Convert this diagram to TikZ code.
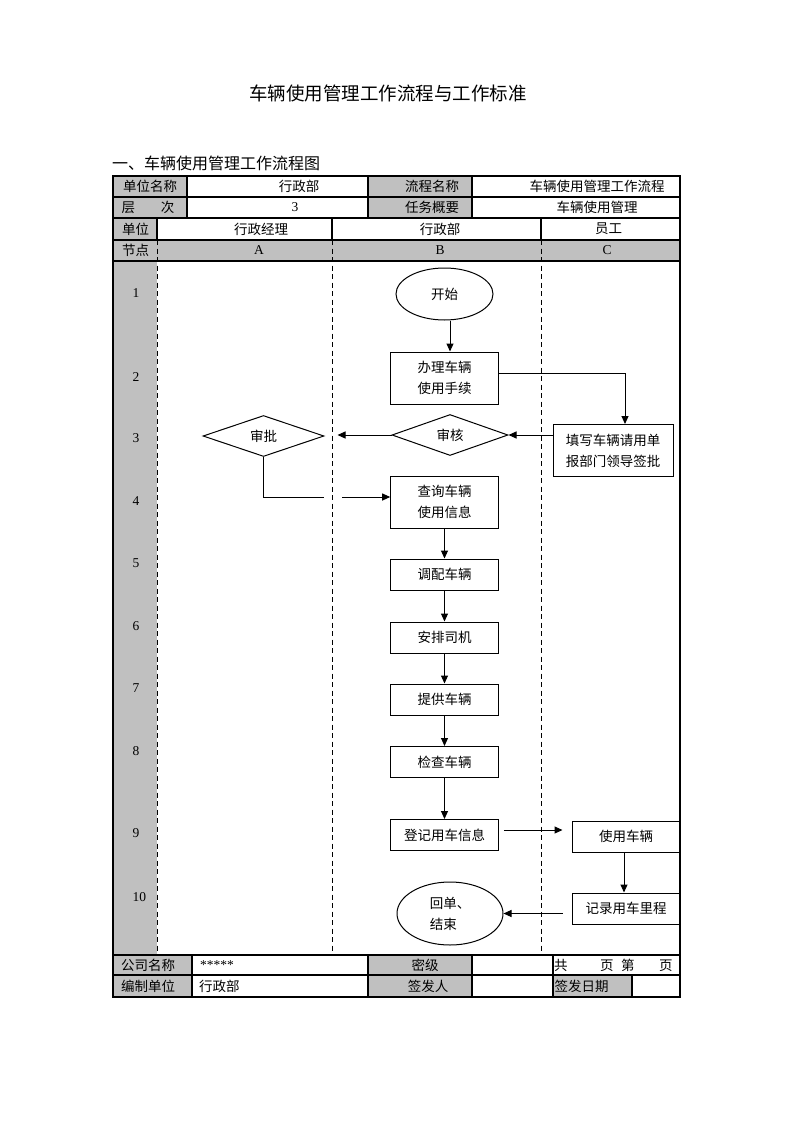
\documentclass[tikz,border=0pt]{standalone}
\usepackage{fontspec}
\setmainfont{Liberation Serif}
\newfontfamily\cjk{Noto Sans CJK SC}
\usetikzlibrary{shapes.geometric,arrows.meta}
\definecolor{cellgray}{RGB}{192,192,192}

\begin{document}
\begin{tikzpicture}[x=1pt,y=-1pt]
			\tikzstyle{every node}+=[inner sep=0pt,font=\cjk\fontsize{13.5}{21}\selectfont]
			\tikzstyle{rule}=[line width=1.1pt]
			\tikzstyle{lane}=[line width=0.9pt,dash pattern=on 5pt off 3.5pt]
			\tikzstyle{box}=[draw,line width=1pt,minimum width=107.6pt,minimum height=31pt,align=center]
			\tikzstyle{tallbox}=[box,minimum height=52pt]
			\tikzstyle{decision}=[draw,diamond,line width=1pt,minimum width=116pt,minimum height=41pt]
			\tikzstyle{terminal}=[draw,ellipse,line width=1pt,minimum width=97pt,minimum height=52pt,align=left]
			\tikzstyle{arrow}=[line width=1pt,-{Triangle[length=8pt,width=7pt]}]
			\tikzstyle{num}=[font=\rmfamily\fontsize{13.5}{16}\selectfont,anchor=west]
			\useasboundingbox (0,0) rectangle (793,1122);
			\node (title) at (388,93) {\fontsize{18.5}{22}\selectfont 车辆使用管理工作流程与工作标准};
			\node [anchor=west] (subtitle) at (112,163) {\fontsize{16}{18}\selectfont 一、车辆使用管理工作流程图};
			\fill [cellgray] (113,176) rectangle (187,218);
			\fill [cellgray] (368,176) rectangle (472,218);
			\fill [cellgray] (113,218) rectangle (157,261);
			\fill [cellgray] (113,240) rectangle (680,261);
			\fill [cellgray] (113,261) rectangle (157,955);
			\fill [cellgray] (113,955) rectangle (192,997);
			\fill [cellgray] (368,955) rectangle (472,997);
			\fill [cellgray] (553,975) rectangle (632,997);
			\draw [rule] (113,176) rectangle (680,997);
			\foreach \y in {197,218,240,261,955,975}
				\draw [rule] (113,\y) -- (680,\y);
			\foreach \x in {187,368,472}
				\draw [rule] (\x,176) -- (\x,218);
			\foreach \x in {157,332,541} {
				\draw [rule] (\x,218) -- (\x,240);
				\draw [lane] (\x,240) -- (\x,955);
			}
			\foreach \x in {192,368,472,553}
				\draw [rule] (\x,955) -- (\x,997);
			\draw [rule] (632,975) -- (632,997);
			\node (dwmc) at (150,186.5) {单位名称};
			\node (dwmcv) at (299,186.5) {行政部};
			\node (lcmc) at (432,186.5) {流程名称};
			\node (lcmcv) at (597,186.5) {车辆使用管理工作流程};
			\node (cengci) at (148,207.5) {层\hspace{26pt}次};
			\node (cengciv) at (295,207.5) {\rmfamily 3};
			\node (rwgy) at (432,207.5) {任务概要};
			\node (rwgyv) at (597,207.5) {车辆使用管理};
			\node (danwei) at (135.5,229) {单位};
			\node (laneA) at (261,229) {行政经理};
			\node (laneB) at (440,229) {行政部};
			\node (laneC) at (608.5,229) {员工};
			\node (jiedian) at (135.5,250.5) {节点};
			\node (colA) at (259,250.5) {\rmfamily A};
			\node (colB) at (440,250.5) {\rmfamily B};
			\node (colC) at (607,250.5) {\rmfamily C};
			\foreach \n/\y in {1/293,2/377,3/438,4/501,5/563,6/626,7/688,8/751,9/833,10/897}
				\node [num] (n\n) at (132.5,\y) {\n};
			\node (gsmc) at (148,965) {公司名称};
			\node [anchor=west] (gsmcv) at (200,965) {\rmfamily *****};
			\node (miji) at (425,965) {密级};
			\node [anchor=west] (yema) at (554,965) {共\hspace{32.5pt}页\hspace{7.5pt}第\hspace{24.5pt}页};
			\node (bzdw) at (148,986) {编制单位};
			\node [anchor=west] (bzdwv) at (199,986) {行政部};
			\node (qfr) at (428,986) {签发人};
			\node [anchor=west] (qfrq) at (554.5,986) {签发日期};
			\node [terminal] (start) at (444.5,294) {开始};
			\node [tallbox] (banli) at (444.5,378) {办理车辆\\使用手续};
			\node [tallbox,minimum width=120pt] (tianxie) at (613,450.5) {填写车辆请用单\\报部门领导签批};
			\node [decision] (shenhe) at (450,435) {审核};
			\node [decision,minimum width=121pt] (shenpi) at (263.5,436) {审批};
			\node [tallbox] (chaxun) at (444.5,502) {查询车辆\\使用信息};
			\node [box] (diaopei) at (444.5,574.5) {调配车辆};
			\node [box] (anpai) at (444.5,637.5) {安排司机};
			\node [box] (tigong) at (444.5,699.5) {提供车辆};
			\node [box] (jiancha) at (444.5,762) {检查车辆};
			\node [box] (dengji) at (444.5,835) {登记用车信息};
			\node [box,minimum width=108pt] (shiyong) at (626,836.5) {使用车辆};
			\node [box,minimum width=108pt] (jilu) at (626,908.5) {记录用车里程};
			\node [terminal,minimum width=106pt,minimum height=63pt] (huidan) at (450,913.5) {回单、\\结束};
			\draw [arrow] ([xshift=5.5pt]start.south) -- ([xshift=5.5pt]banli.north);
			\draw [arrow] ([yshift=5pt]banli.east) -| ([xshift=12pt]tianxie.north);
			\draw [arrow] (tianxie.west |- shenhe.east) -- (shenhe.east);
			\coordinate (shenpiend) at ([xshift=13pt]shenpi.east);
			\draw [arrow] (shenhe.west) -- (shenhe.west -| shenpiend);
			\coordinate (gapl) at (324,497);
			\coordinate (gapr) at (342,497);
			\draw [line width=1pt] (shenpi.south) |- (gapl);
			\draw [arrow] (gapr) -- (gapr -| chaxun.west);
			\foreach \a/\b in {chaxun/diaopei,diaopei/anpai,anpai/tigong,tigong/jiancha,jiancha/dengji}
				\draw [arrow] (\a) -- (\b);
			\draw [arrow] ([xshift=5pt,yshift=5pt]dengji.east) -- ([xshift=-9pt,yshift=6.5pt]shiyong.west);
			\draw [arrow] ([xshift=-2pt]shiyong.south) -- ([xshift=-2pt]jilu.north);
			\draw [arrow] ([xshift=-9pt]jilu.west |- huidan.east) -- (huidan.east);
\end{tikzpicture}
\end{document}
